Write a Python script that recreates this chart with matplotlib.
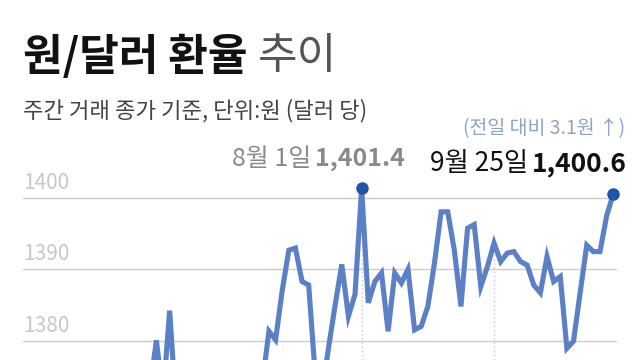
import matplotlib
matplotlib.use('Agg')
import matplotlib.pyplot as plt
from matplotlib.transforms import blended_transform_factory

# ---- data ----
rates = [1372, 1370, 1367, 1365, 1366, 1363, 1361, 1364, 1366, 1369,
         1362, 1360, 1358, 1361, 1363, 1366, 1368, 1371, 1373, 1380.0,
         1372, 1384.2, 1370, 1366, 1363, 1360, 1357, 1356, 1360, 1362,
         1365, 1368, 1366, 1369, 1372, 1374, 1381.3, 1380.1, 1387.0, 1392.7,
         1393.0, 1388.3, 1387.8, 1375, 1372.5, 1379, 1385, 1390.7, 1383.4, 1386.5,
         1401.4, 1385.3, 1388.3, 1389.5, 1381.3, 1389.5, 1388.1, 1390.0, 1381.5, 1382.0,
         1384.8, 1390.9, 1398.1, 1398.1, 1392.7, 1384.8, 1395.8, 1396.3, 1387.6, 1390.4,
         1393.7, 1391.1, 1392.3, 1392.5, 1391.1, 1390.6, 1387.8, 1386.7, 1391.8, 1388.3,
         1389.0, 1378.9, 1379.9, 1386.7, 1393.4, 1392.5, 1392.5, 1397.5, 1400.6]
highlight_idx = [50, 88]          # 8월 1일, 9월 25일
drop_idx = [50, 70]               # month starts (8/1, 9/1)
yticks = [1380, 1390, 1400]
ytick_labels = ['1380', '1390', '1400']

title_main = '원/달러 환율'
title_tail = '추이'
subtitle = '주간 거래 종가 기준, 단위:원 (달러 당)'
peak_date, peak_val = '8월 1일', '1,401.4'
last_date, last_val = '9월 25일', '1,400.6'
change_note = '(전일 대비 3.1원 ↑)'

FAM = ['Noto Sans CJK KR', 'DejaVu Sans']
plt.rcParams['font.family'] = FAM

W, H = 640, 360
fig = plt.figure(figsize=(6.4, 3.6), dpi=100)
fig.patch.set_facecolor('white')

def fx(x):
    return x / W

def fy(y):
    return 1 - y / H

# axes placed in pixel space
ax = fig.add_axes([fx(23), 0, (617 - 23) / W, (H - 170) / H])
ax.set_xlim(-1.15, 88.57)
ax.set_ylim(1377.26, 1403.98)
for s in ax.spines.values():
    s.set_visible(False)
ax.set_xticks([])
ax.set_yticks([])
ax.patch.set_alpha(0)

grid_c = '#cccccc'
for v in yticks:
    ax.axhline(v, color=grid_c, lw=1.0, zorder=1)

trans = blended_transform_factory(ax.transAxes, ax.transData)
for v, lab in zip(yticks, ytick_labels):
    ax.text(0, v + 2.1, lab, transform=trans, ha='left', va='center',
            fontsize=15, color='#c8c8c8', family=FAM)

xs = list(range(len(rates)))
for i in drop_idx:
    ax.vlines(i, 1377.26, rates[i], colors='#c8c8c8', linestyles=(0, (1, 2)), lw=1.0, zorder=1)

ax.plot(xs, rates, color='#5b80c6', lw=3.7, solid_joinstyle='miter', zorder=3)
ax.plot([xs[i] for i in highlight_idx], [rates[i] for i in highlight_idx], 'o',
        color='#1f55a8', ms=8, zorder=4, clip_on=False)

# titles
fig.text(fx(23), fy(57), title_main, ha='left', va='center', fontsize=31,
         fontweight='bold', color='#111111')
fig.text(fx(258), fy(57), title_tail, ha='left', va='center', fontsize=31,
         fontweight='light', color='#555555')
fig.text(fx(23), fy(111), subtitle, ha='left', va='center', fontsize=16,
         color='#444444')

fig.canvas.draw()
r = fig.canvas.get_renderer()

def two_part(right_x, cy, reg, bold, size, color_reg, color_bold):
    tb = fig.text(fx(right_x), fy(cy), bold, ha='right', va='center', fontsize=size,
                  fontweight='bold', color=color_bold)
    bb = tb.get_window_extent(renderer=r)
    fig.text(bb.x0 / W - 4 / W, fy(cy), reg, ha='right', va='center', fontsize=size,
             color=color_reg)

two_part(405, 159, peak_date, peak_val, 18, '#8a8a8a', '#8a8a8a')
two_part(627, 164, last_date, last_val, 19, '#111111', '#111111')
fig.text(fx(625), fy(128.5), change_note, ha='right', va='center', fontsize=14,
         color='#8ea4c6')

fig.savefig('out.png', dpi=100, facecolor='white')
